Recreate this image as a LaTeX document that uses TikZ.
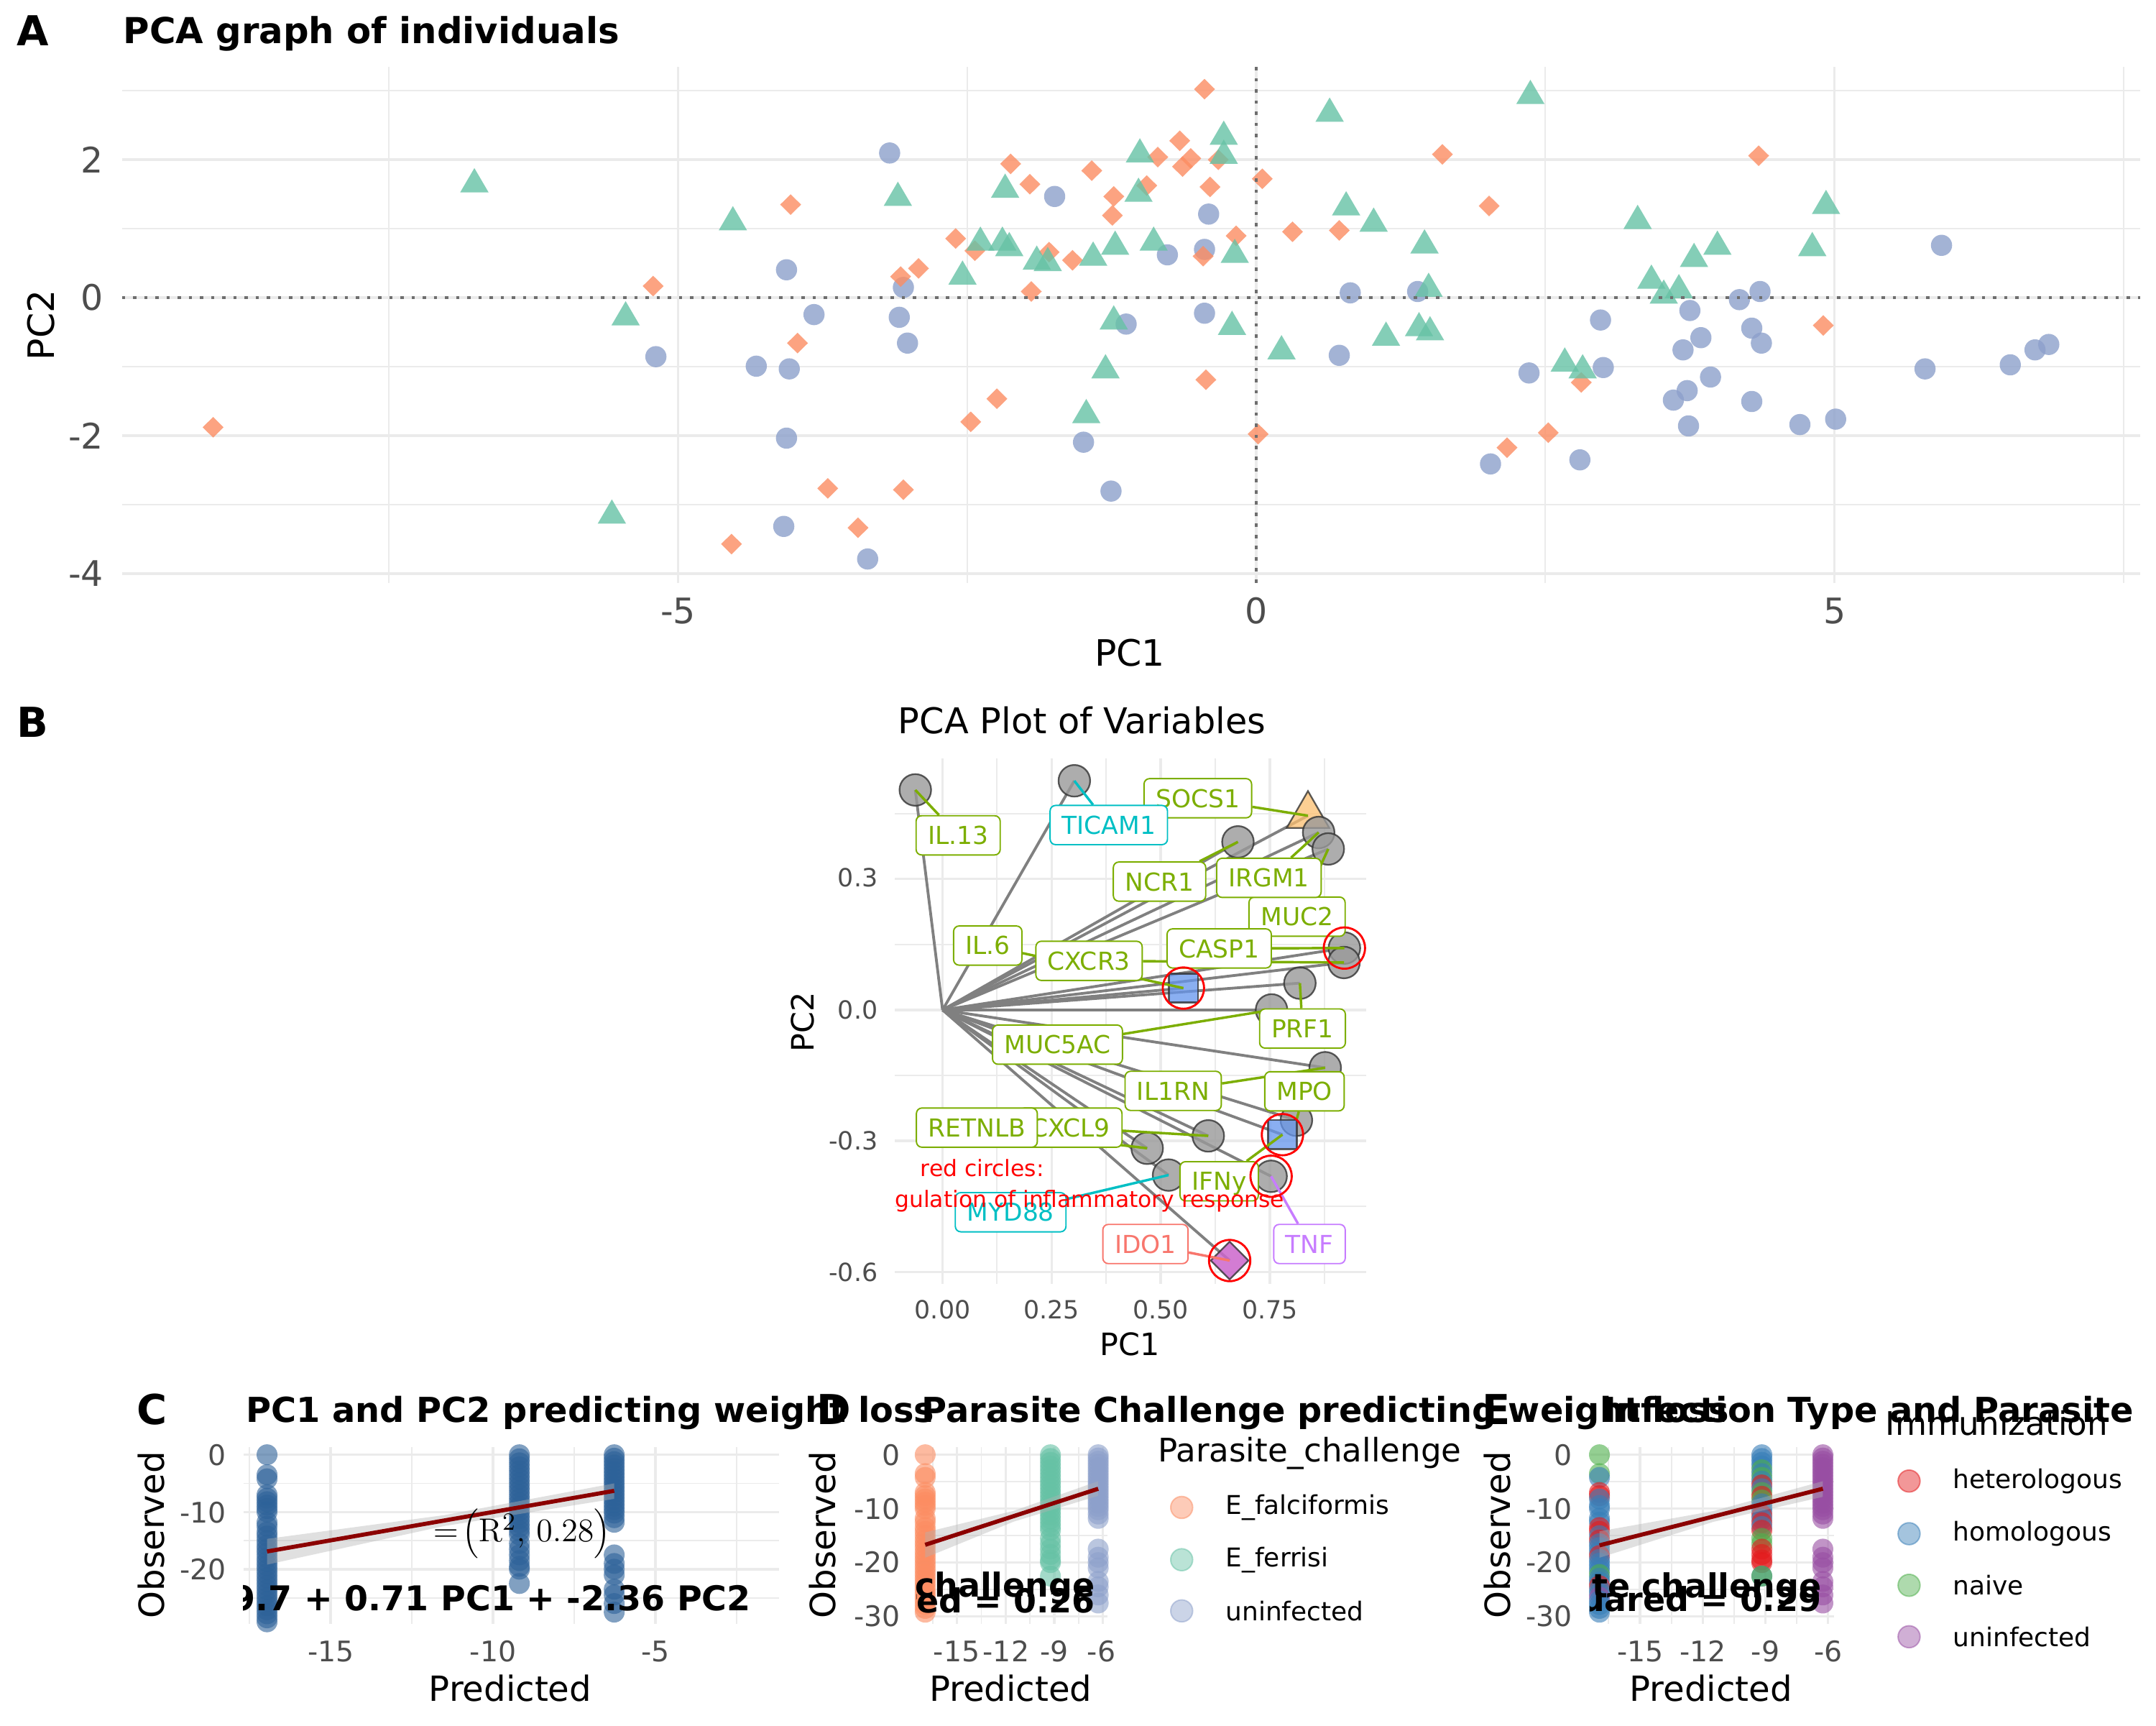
\documentclass[tikz,border=0pt]{standalone}
\usepackage[no-math]{fontspec}
\setmainfont{DejaVu Sans}
\setsansfont{DejaVu Sans}
\usetikzlibrary{positioning,shapes.geometric}

\definecolor{gridc}{HTML}{EBEBEB}
\definecolor{tickc}{HTML}{4D4D4D}
\definecolor{zeroc}{HTML}{6E6E6E}
\definecolor{sOra}{HTML}{FC8D62}
\definecolor{sGrn}{HTML}{66C2A5}
\definecolor{sBlu}{HTML}{8DA0CB}
\definecolor{lGrn}{HTML}{7CAE00}
\definecolor{lCyn}{HTML}{00BFC4}
\definecolor{lRed}{HTML}{F8766D}
\definecolor{lPur}{HTML}{C77CFF}
\definecolor{ptGray}{HTML}{999999}
\definecolor{ptEdge}{HTML}{333333}
\definecolor{vecc}{HTML}{808080}
\definecolor{sqBlu}{HTML}{6495ED}
\definecolor{diaPur}{HTML}{CC66CC}
\definecolor{triOra}{HTML}{FDBF6F}
\definecolor{cHet}{HTML}{E41A1C}
\definecolor{cHom}{HTML}{377EB8}
\definecolor{cNai}{HTML}{4DAF4A}
\definecolor{cUni}{HTML}{984EA3}
\definecolor{cSteel}{HTML}{2D6299}
\definecolor{fitRed}{HTML}{8B0000}

\newcommand{\fs}[1]{\fontsize{#1}{#1}\selectfont}
\def\colF{0,-3.5,-4.2,-7,-7.6,-8.2,-8.8,-9.4,-10,-11.8,-12.5,-13.5,-14.2,-15,-15.8,-16.5,-17.2,-18,-18.7,-19.4,-20.1,-20.8,-21.5,-22.2,-22.9,-23.6,-24.3,-25,-25.7,-26.4,-27.1,-27.8,-28.5,-29.2}
\def\colM{0,-0.7,-1.4,-2.1,-2.8,-3.5,-4.2,-4.9,-5.6,-6.3,-7,-7.7,-8.4,-9.1,-9.8,-10.5,-11.2,-11.9,-12.6,-13.3,-14,-15.5,-16.5,-17.5,-18.5,-19.5,-20,-22.5}
\def\colU{0,-0.6,-1.2,-1.8,-2.4,-3,-3.6,-4.2,-4.8,-5.4,-6,-6.6,-7.2,-7.8,-8.4,-9,-9.6,-10.2,-11,-11.8,-17.5,-19,-20,-21,-23.5,-24.5,-26,-27.5}

\pgfdeclarelayer{bg}
\pgfdeclarelayer{vec}
\pgfdeclarelayer{pts}
\pgfdeclarelayer{seg}
\pgfdeclarelayer{top}
\pgfsetlayers{bg,vec,pts,seg,main,top}

\tikzset{
gridmaj/.style={draw=gridc, line width=0.9pt},
gridmin/.style={draw=gridc, line width=0.5pt},
zeroln/.style={draw=zeroc, line width=1pt, dash pattern=on 1.2pt off 2.85pt},
tickA/.style={text=tickc, inner sep=0pt, font=\fs{12.8}},
tickB/.style={text=tickc, inner sep=0pt, font=\fs{9.1}},
tickC/.style={text=tickc, inner sep=0pt, font=\fs{10.3}},
panlab/.style={inner sep=0pt, font=\bfseries\fs{15}, anchor=base},
ptitle/.style={inner sep=0pt, font=\bfseries\fs{12.5}, anchor=base west},
axt/.style={inner sep=0pt, font=\fs{12.6}},
vpt/.style={circle, draw=ptEdge, draw opacity=0.8, fill=ptGray, fill opacity=0.8, line width=0.6pt, minimum size=11.5pt, inner sep=0pt},
vsq/.style={rectangle, draw=ptEdge, draw opacity=0.8, fill=sqBlu, fill opacity=0.75, line width=0.6pt, minimum size=10.5pt, inner sep=0pt},
vdia/.style={diamond, draw=ptEdge, draw opacity=0.8, fill=diaPur, fill opacity=0.85, line width=0.6pt, minimum size=14pt, inner sep=0pt},
vtri/.style={regular polygon, regular polygon sides=3, draw=ptEdge, draw opacity=0.8, fill=triOra, fill opacity=0.75, line width=0.6pt, minimum size=17.9pt, inner sep=0pt},
vecln/.style={draw=vecc, line width=1pt},
vlab/.style={draw=#1, text=#1, fill=white, rounded corners=2pt, line width=0.5pt, font=\fs{9}, inner xsep=4.3pt, inner ysep=0pt, minimum height=14.25pt, text height=6.6pt, text depth=0pt},
seg/.style={draw=#1, line width=0.9pt},
ring/.style={draw=red, line width=0.75pt},
fitln/.style={draw=fitRed, line width=1.5pt},
band/.style={fill=gray!60, fill opacity=0.4},
eqtxt/.style={inner sep=0pt, font=\bfseries\fs{12}},
}

\begin{document}
\begin{tikzpicture}[x=0.5pt,y=-0.5pt]
\begin{pgfonlayer}{bg}
\fill[white] (0,0) rectangle (1568,1254.4);
\end{pgfonlayer}
\useasboundingbox (0,0) rectangle (1568,1254.4);

% ---------- A: individuals
\node[panlab] (labA) at (23.7,33.1) {A};
\node[ptitle, font=\bfseries\fs{13}] (titA) at (89.4,31.4) {PCA graph of individuals};
\begin{scope}[shift={(913.7,216.4)},x=42.05pt,y=25.09pt]
\foreach \gx in {-7.5,-2.5,2.5,7.5} \draw[gridmin] (\gx,-4.13) -- (\gx,3.34);
\foreach \gy in {3,1,-1,-3} \draw[gridmin] (-9.81,\gy) -- (7.64,\gy);
\foreach \gx in {-5,0,5} \draw[gridmaj] (\gx,-4.13) -- (\gx,3.34);
\foreach \gy in {2,0,-2,-4} \draw[gridmaj] (-9.81,\gy) -- (7.64,\gy);
\end{scope}
\begin{scope}[x=0.5pt,y=-0.4936pt,yshift=-0.3345pt]
\foreach \px/\py in {572/198,477/262,550/269,574/271,572/322,570/387,647/112,767/144,879/157,849/187,876/183,657/211,982/215,1031/214,592/231,654/233,660/252,876/230,819/238,974/261,788/325,808/361,631/411,1412/180,1280/214,1265/220,1229/228,1164/235,1274/241,1237/248,1281/252,1224/257,1112/274,1166/270,1244/277,1227/287,1217/294,1274/295,1228/313,1309/312,1335/308,1400/271,1462/268,1480/257,1490/253,1084/341,1149/338}
  \fill[sBlu, fill opacity=0.8] (\px,\py) circle[radius=3.85pt];
\foreach \px/\py in {155/314,475/210,575/150,580/252,532/400,876/65,858/103,842/115,866/116,860/122,886/117,1049/113,735/120,749/135,794/125,834/136,880/137,918/131,810/144,809/158,940/170,974/169,899/173,695/175,709/184,763/185,780/191,875/188,655/203,668/197,750/214,877/279,725/293,706/310,915/319,602/359,657/360,624/388,1279/114,1083/151,1326/239,1150/281,1126/318,1096/329}
  \fill[sOra, fill opacity=0.8] (\px,\py) +(0,-7.6) -- +(7.6,0) -- +(0,7.6) -- +(-7.6,0) -- cycle;
\foreach \px/\py in {345/135,533/163,455/233,445/379,653/145,700/203,713/178,729/178,734/182,731/139,754/192,762/193,795/189,811/181,839/178,829/113,828/142,810/236,804/272,790/305,890/100,890/114,898/187,896/240,932/258,967/83,979/152,999/164,1008/248,1036/180,1039/212,1032/241,1040/244,1113/70,1138/267,1151/272,1191/162,1201/206,1210/217,1221/213,1232/190,1249/181,1318/182,1328/151}
  \fill[sGrn, fill opacity=0.8] (\px,\py) +(0,-11.9) -- +(10.3,5.95) -- +(-10.3,5.95) -- cycle;
\end{scope}
\begin{scope}[shift={(913.7,216.4)},x=42.05pt,y=25.09pt]
\draw[zeroln] (0,-4.13) -- (0,3.34);
\draw[zeroln] (-9.81,0) -- (7.64,0);
\end{scope}
\foreach \tx/\tl [count=\i] in {493.2/-5,913.7/0,1334.2/5}
  \node[tickA] (tAx\i) at (\tx,444.3) {\tl};
\foreach \ty/\tl [count=\i] in {116.1/2,216.4/0,316.8/-2,417.1/-4}
  \node[tickA, anchor=east] (tAy\i) at (75.6,\ty) {\tl};
\node[axt, font=\fs{13.2}] (aPC1) at (821.7,474.8) {PC1};
\node[axt, font=\fs{13.2}, rotate=90] (aPC2) at (30,236.3) {PC2};

% ---------- B: variables
\node[panlab] (labB) at (23.7,536) {B};
\node[inner sep=0pt, font=\fs{12.9}] (titB) at (786.9,523.5) {PCA Plot of Variables};
\begin{scope}[shift={(685.5,734.3)},x=158.65pt,y=158.7pt]
\begin{pgfonlayer}{bg}
\foreach \gx in {0.125,0.375,0.625,0.875} \draw[gridmin] (\gx,-0.628) -- (\gx,0.577);
\foreach \gy in {0.45,0.15,-0.15,-0.45} \draw[gridmin] (-0.109,\gy) -- (0.971,\gy);
\foreach \gx in {0,0.25,0.5,0.75} \draw[gridmaj] (\gx,-0.628) -- (\gx,0.577);
\foreach \gy in {0.3,0,-0.3,-0.6} \draw[gridmaj] (-0.109,\gy) -- (0.971,\gy);
\end{pgfonlayer}
\coordinate (o) at (0,0);
\begin{pgfonlayer}{pts}
\node[vpt] (pIL13) at (-0.0625,0.504) {};
\node[vpt] (pTICAM1) at (0.302,0.525) {};
\node[vtri] (pSOCS1) at (0.8375,0.445) {};
\node[vpt] (pNCR1) at (0.677,0.385) {};
\node[vpt] (pIRGM1) at (0.862,0.4066) {};
\node[vpt] (pMUC2) at (0.884,0.3688) {};
\node[vpt] (pCASP1) at (0.921,0.1418) {};
\node[vpt] (pCXCR3) at (0.920,0.1087) {};
\node[vsq] (pIL6) at (0.552,0.0501) {};
\node[vpt] (pPRF1) at (0.819,0.0615) {};
\node[vpt] (pMUC5AC) at (0.754,0) {};
\node[vpt] (pIL1RN) at (0.877,-0.1324) {};
\node[vpt] (pMPO) at (0.811,-0.2525) {};
\node[vsq] (pIFNy) at (0.779,-0.2856) {};
\node[vpt] (pCXCL9) at (0.609,-0.2884) {};
\node[vpt] (pRETNLB) at (0.469,-0.3168) {};
\node[vpt] (pMYD88) at (0.518,-0.3782) {};
\node[vpt] (pTNF) at (0.753,-0.381) {};
\node[vdia] (pIDO1) at (0.658,-0.574) {};
\end{pgfonlayer}
\begin{pgfonlayer}{vec}
\foreach \p in {pIL13,pTICAM1,pSOCS1,pNCR1,pIRGM1,pMUC2,pCASP1,pCXCR3,pIL6,pPRF1,pMUC5AC,pIL1RN,pMPO,pIFNy,pCXCL9,pRETNLB,pMYD88,pTNF,pIDO1}
  \draw[vecln] (o) -- (\p.center);
\end{pgfonlayer}
\node[vlab=lGrn] (lSOCS1) at (0.585,0.485) {SOCS1};
\node[vlab=lCyn] (lTICAM1) at (0.381,0.4236) {TICAM1};
\node[vlab=lGrn] (lIL13) at (0.0357,0.400) {IL.13};
\node[vlab=lGrn] (lNCR1) at (0.4973,0.294) {NCR1};
\node[vlab=lGrn] (lMUC2) at (0.8125,0.2137) {MUC2};
\node[vlab=lGrn] (lIRGM1) at (0.748,0.3026) {IRGM1};
\node[vlab=lGrn] (lCASP1) at (0.634,0.1409) {CASP1};
\node[vlab=lGrn] (lIL6) at (0.1036,0.1475) {IL.6};
\node[vlab=lGrn] (lCXCR3) at (0.3357,0.1125) {CXCR3};
\node[vlab=lGrn] (lPRF1) at (0.825,-0.0425) {PRF1};
\node[vlab=lGrn] (lMUC5AC) at (0.2634,-0.0794) {MUC5AC};
\node[vlab=lGrn] (lIL1RN) at (0.5286,-0.1853) {IL1RN};
\node[vlab=lGrn] (lMPO) at (0.8295,-0.1863) {MPO};
\node[vlab=lGrn] (lCXCL9) at (0.2933,-0.2695) {CXCL9};
\node[vlab=lGrn] (lRETNLB) at (0.0786,-0.2695) {RETNLB};
\node[vlab=lGrn] (lIFNy) at (0.634,-0.3924) {IFNy};
\node[vlab=lCyn] (lMYD88) at (0.156,-0.4633) {MYD88};
\node[vlab=lRed] (lIDO1) at (0.465,-0.5361) {IDO1};
\node[vlab=lPur] (lTNF) at (0.841,-0.5361) {TNF};
\begin{pgfonlayer}{seg}
\foreach \g/\c in {IL13/lGrn,TICAM1/lCyn,SOCS1/lGrn,NCR1/lGrn,IRGM1/lGrn,MUC2/lGrn,CASP1/lGrn,CXCR3/lGrn,IL6/lGrn,PRF1/lGrn,MUC5AC/lGrn,IL1RN/lGrn,MPO/lGrn,IFNy/lGrn,CXCL9/lGrn,RETNLB/lGrn,MYD88/lCyn,TNF/lPur,IDO1/lRed}
  \draw[seg=\c] (l\g) -- (p\g.center);
\end{pgfonlayer}
\begin{pgfonlayer}{top}
\foreach \p in {pCASP1,pIL6,pIFNy,pTNF,pIDO1}
  \draw[ring] (\p) circle[radius=7.5pt];
\begin{scope}
\clip (-0.109,-0.628) rectangle (0.971,0.577);
\node[text=red, inner sep=0pt, font=\fs{8.2}] (redA) at (0.091,-0.362) {red circles:};
\node[text=red, inner sep=0pt, font=\fs{8.2}, anchor=east] (redB) at (0.784,-0.438) {regulation of inflammatory response};
\end{scope}
\end{pgfonlayer}
\end{scope}
\foreach \ty/\tl [count=\i] in {638.2/0.3,734.3/0.0,829.4/-0.3,924.8/-0.6}
  \node[tickB, anchor=east] (tBy\i) at (638.7,\ty) {\tl};
\foreach \tx/\tl [count=\i] in {685.5/0.00,764.8/0.25,844.1/0.50,923.5/0.75}
  \node[tickB] (tBx\i) at (\tx,952.4) {\tl};
\node[axt, font=\fs{11.2}] (bPC1) at (821.5,977.4) {PC1};
\node[axt, font=\fs{11.2}, rotate=90] (bPC2) at (583.5,743.3) {PC2};

% ---------- C: PC1 and PC2
\begin{scope}[shift={(594.8,1057.7)},x=11.81pt,y=2.08pt]
\foreach \gx in {-17.5,-12.5,-7.5,-2.5} \draw[gridmin] (\gx,-29.5) -- (\gx,1.37);
\foreach \gy in {-5,-15,-25} \draw[gridmin] (-17.69,\gy) -- (-1.19,\gy);
\foreach \gx in {-15,-10,-5} \draw[gridmaj] (\gx,-29.5) -- (\gx,1.37);
\foreach \gy in {0,-10,-20} \draw[gridmaj] (-17.69,\gy) -- (-1.19,\gy);
\foreach \v in \colF \fill[cSteel, fill opacity=0.6] (-16.96,\v) circle[radius=3.8pt];
\foreach \v in \colM \fill[cSteel, fill opacity=0.6] (-9.19,\v) circle[radius=3.8pt];
\foreach \v in \colU \fill[cSteel, fill opacity=0.6] (-6.27,\v) circle[radius=3.8pt];
\fill[band] (-16.96,-14.7) -- (-11.5,-10.55) -- (-6.27,-5.0) -- (-6.27,-7.7) -- (-11.5,-12.45) -- (-16.96,-19.2) -- cycle;
\draw[fitln] (-16.96,-16.9) -- (-6.27,-6.3);
\end{scope}
\node[inner sep=0pt, font=\fs{13}] (rsqC) at (379.5,1115) {$=\!\left(\mathrm{R}^{2},\,0.28\right)$};
\begin{scope}
\clip (177,1052) rectangle (566.6,1180.5);
\node[eqtxt, font=\bfseries\fs{12.4}, anchor=east] (eqC) at (546.4,1162.2) {-19.7 + 0.71 PC1 + -2.36 PC2};
\end{scope}
\node[panlab] (labC) at (110.4,1035.9) {C};
\node[ptitle] (titC) at (178.6,1034.1) {PC1 and PC2 predicting weight loss};
\node[axt, rotate=90] (obsC) at (110,1116) {Observed};
\node[axt] (preC) at (371.1,1227.5) {Predicted};
\foreach \ty/\tl [count=\i] in {1057.7/0,1099.5/-10,1140.9/-20}
  \node[tickC, anchor=east] (tCy\i) at (165,\ty) {\tl};
\foreach \tx/\tl [count=\i] in {240.6/-15,358.6/-10,476.7/-5}
  \node[tickC] (tCx\i) at (\tx,1200.5) {\tl};

% ---------- D: parasite challenge
\begin{scope}[shift={(872.6,1057.7)},x=5.885pt,y=1.96pt]
\foreach \gx in {-16.5,-13.5,-10.5,-7.5} \draw[gridmin] (\gx,-31.35) -- (\gx,1.43);
\foreach \gy in {-5,-15,-25} \draw[gridmin] (-17.55,\gy) -- (-5.73,\gy);
\foreach \gx in {-15,-12,-9,-6} \draw[gridmaj] (\gx,-31.35) -- (\gx,1.43);
\foreach \gy in {0,-10,-20,-30} \draw[gridmaj] (-17.55,\gy) -- (-5.73,\gy);
\foreach \v in \colF \fill[sOra, fill opacity=0.6] (-16.97,\v) circle[radius=3.8pt];
\foreach \v in \colM \fill[sGrn, fill opacity=0.6] (-9.23,\v) circle[radius=3.8pt];
\foreach \v in \colU \fill[sBlu, fill opacity=0.6] (-6.28,\v) circle[radius=3.8pt];
\fill[band] (-16.97,-14.4) -- (-11.5,-10.4) -- (-6.28,-4.9) -- (-6.28,-7.6) -- (-11.5,-12.4) -- (-16.97,-19.1) -- cycle;
\draw[fitln] (-16.97,-16.7) -- (-6.28,-6.3);
\end{scope}
\begin{scope}
\clip (666.7,1052) rectangle (805,1180.5);
\node[eqtxt, anchor=east] (chD) at (796.7,1154.3) {Parasite challenge};
\node[eqtxt, anchor=east] (rsD) at (796.7,1165.7) {R-squared = 0.26};
\end{scope}
\node[panlab] (labD) at (606.7,1035.9) {D};
\node[ptitle] (titD) at (670,1034.1) {Parasite Challenge predicting weight loss};
\node[axt, rotate=90] (obsD) at (598.3,1116) {Observed};
\node[axt] (preD) at (735,1227.5) {Predicted};
\foreach \ty/\tl [count=\i] in {1057.7/0,1096.9/-10,1135.7/-20,1175.2/-30}
  \node[tickC, anchor=east] (tDy\i) at (655,\ty) {\tl};
\foreach \tx/\tl [count=\i] in {695.7/-15,731.7/-12,766.7/-9,801/-6}
  \node[tickC] (tDx\i) at (\tx,1200.5) {\tl};
\node[inner sep=0pt, anchor=base west, font=\fs{11.8}] (legD) at (841.7,1062.9) {Parasite\_challenge};
\foreach \ky/\kc/\kt [count=\i] in {1096/sOra/E\_falciformis,1134/sGrn/E\_ferrisi,1171.2/sBlu/uninfected}{
  \fill[\kc, fill opacity=0.45, draw opacity=0.5, draw=\kc, line width=0.5pt] (859.4,\ky) circle[radius=4pt];
  \node[inner sep=0pt, anchor=west, font=\fs{9.4}] (kD\i) at (891,\ky) {\kt};
}

% ---------- E: infection type
\begin{scope}[shift={(1420.7,1057.7)},x=7.6pt,y=1.96pt]
\foreach \gx in {-16.5,-13.5,-10.5,-7.5} \draw[gridmin] (\gx,-31.35) -- (\gx,1.43);
\foreach \gy in {-5,-15,-25} \draw[gridmin] (-17.38,\gy) -- (-5.7,\gy);
\foreach \gx in {-15,-12,-9,-6} \draw[gridmaj] (\gx,-31.35) -- (\gx,1.43);
\foreach \gy in {0,-10,-20,-30} \draw[gridmaj] (-17.38,\gy) -- (-5.7,\gy);
\foreach \v/\c in {0/cNai,-3.5/cNai,-4.2/cHom,-7/cHet,-7.6/cHet,-8.2/cHom,-9.4/cHom,-10/cHom,-11.8/cHom,-12.5/cHom,-13.5/cHet,-14.2/cHet,-15/cHom,-15.8/cHet,-16.5/cHom,-17.2/cHom,-18/cHom,-18.7/cHet,-19.4/cHom,-20.1/cHom,-20.8/cHom,-21.5/cHom,-22.2/cNai,-22.9/cHom,-23.6/cHom,-24.3/cHet,-25/cHom,-25.7/cHom,-26.4/cUni,-27.1/cHom,-27.8/cHom,-28.5/cHom,-29.2/cHom}
  \fill[\c, fill opacity=0.6] (-16.94,\v) circle[radius=3.8pt];
\foreach \v/\c in {0/cHom,-0.7/cHom,-1.4/cHom,-2.1/cHom,-2.8/cNai,-3.5/cHom,-4.2/cNai,-4.9/cHom,-5.6/cHet,-6.3/cHom,-7/cNai,-7.7/cHet,-8.4/cNai,-9.1/cHom,-9.8/cHom,-10.5/cHom,-11.2/cHet,-11.9/cHom,-12.6/cHet,-13.3/cHom,-14/cHet,-15.5/cNai,-16.5/cNai,-17.5/cHet,-18.5/cHet,-19.5/cHet,-20/cHet,-22.5/cHom,-22.5/cNai}
  \fill[\c, fill opacity=0.6] (-9.17,\v) circle[radius=3.8pt];
\foreach \v in \colU \fill[cUni, fill opacity=0.6] (-6.25,\v) circle[radius=3.8pt];
\fill[band] (-16.94,-14.2) -- (-11.5,-10.45) -- (-6.25,-4.9) -- (-6.25,-7.8) -- (-11.5,-12.45) -- (-16.94,-19.1) -- cycle;
\draw[fitln] (-16.94,-16.8) -- (-6.25,-6.3);
\end{scope}
\begin{scope}
\clip (1156.5,1052) rectangle (1333.9,1180.5);
\node[eqtxt, anchor=east] (chE) at (1325,1155.2) {Parasite challenge};
\node[eqtxt, anchor=east] (rsE) at (1325,1164.8) {R-squared = 0.29};
\end{scope}
\node[panlab] (labE) at (1088,1035.9) {E};
\node[ptitle] (titE) at (1166,1034.1) {Infection Type and Parasite};
\node[axt, rotate=90] (obsE) at (1089,1116) {Observed};
\node[axt] (preE) at (1244.3,1227.5) {Predicted};
\foreach \ty/\tl [count=\i] in {1057.7/0,1096.9/-10,1135.7/-20,1175.2/-30}
  \node[tickC, anchor=east] (tEy\i) at (1143.8,\ty) {\tl};
\foreach \tx/\tl [count=\i] in {1193/-15,1238.5/-12,1283.9/-9,1329.8/-6}
  \node[tickC] (tEx\i) at (\tx,1200.5) {\tl};
\node[inner sep=0pt, anchor=base west, font=\fs{11.8}] (legE) at (1371,1043.7) {Immunization};
\foreach \ky/\kc/\kt [count=\i] in {1076.8/cHet/heterologous,1115.1/cHom/homologous,1152.6/cNai/naive,1190/cUni/uninfected}{
  \fill[\kc, fill opacity=0.45, draw opacity=0.5, draw=\kc, line width=0.5pt] (1388.4,\ky) circle[radius=4pt];
  \node[inner sep=0pt, anchor=west, font=\fs{9.4}] (kE\i) at (1420,\ky) {\kt};
}
\end{tikzpicture}
\end{document}
